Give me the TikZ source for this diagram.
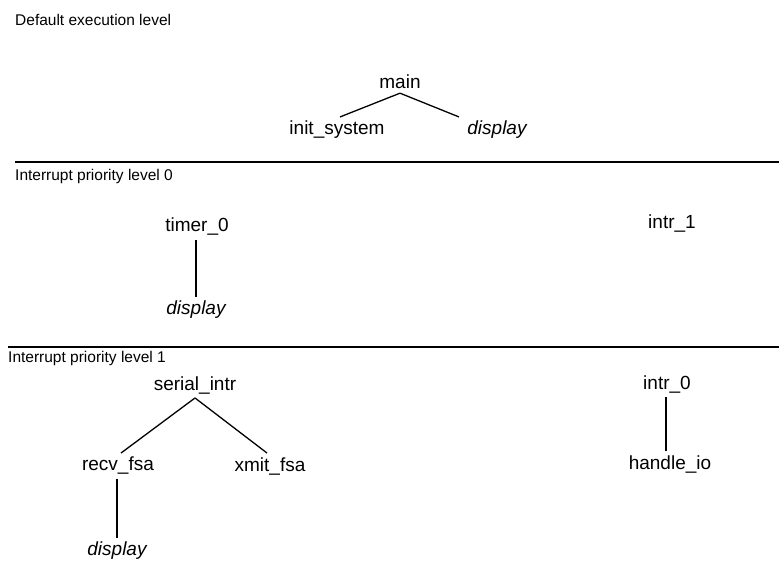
\documentclass[tikz,border=0pt]{standalone}
\usepackage{fontspec}
\setmainfont{Liberation Sans}
\usetikzlibrary{positioning}

\tikzset{
    func/.style={inner sep=4pt, font=\fontsize{19}{22}\selectfont}
    , called/.style={func, font=\fontsize{19}{22}\selectfont\itshape}
    , level/.style={anchor=west, inner sep=0pt, font=\fontsize{15.5}{18}\selectfont}
    , calls/.style={line width=1.3pt}
}

\begin{document}
\begin{tikzpicture}[x=1pt, y=-1pt
    , every node/.style={}
    ]

    \useasboundingbox (0,0) rectangle (779,562);

    % Default execution level
    \node[level] (lvlmain) at (15,20) {Default execution level};
    \node[func] (main) at (400,82) {main};
    \node[func] (initsys) at (337,130) {init\_system};
    \node[called] (dispa) at (497,130) {display};
    \draw[calls] (main.south) -- ([xshift=3pt]initsys.north);
    \draw[calls] (main.south) -- ([xshift=-38pt]dispa.north);

    %% Interrupt priority level 0
    \draw[calls] (15,162) -- (779,162);
    \node[level] (lvlzero) at (15,176) {Interrupt priority level 0};
    \node[func] (timer) at (197,227) {timer\_0};
    \node[called] (dispb) at (196,310) {display};
    \draw[calls] (timer.south -| dispb) -- (dispb.north);
    \node[func] (intra) at (672,224) {intr\_1};

    %% Interrupt priority level 1
    \draw[calls] (8,347) -- (779,347);
    \node[level] (lvlone) at (8,358) {Interrupt priority level 1};
    \node[func] (serial) at (195,385) {serial\_intr};
    \node[func] (recv) at (118,466) {recv\_fsa};
    \node[func] (xmit) at (270,466) {xmit\_fsa};
    \node[called] (dispc) at (117,551) {display};
    \draw[calls] (serial.south) -- ([xshift=3pt]recv.north);
    \draw[calls] (serial.south) -- ([xshift=-3pt]xmit.north);
    \draw[calls] (recv.south -| dispc) -- (dispc.north);
    \node[func] (intrb) at (667,384) {intr\_0};
    \node[func] (handle) at (670,464) {handle\_io};
    \draw[calls] (intrb.south -| 666,0) -- (handle.north -| 666,0);

\end{tikzpicture}
\end{document}
